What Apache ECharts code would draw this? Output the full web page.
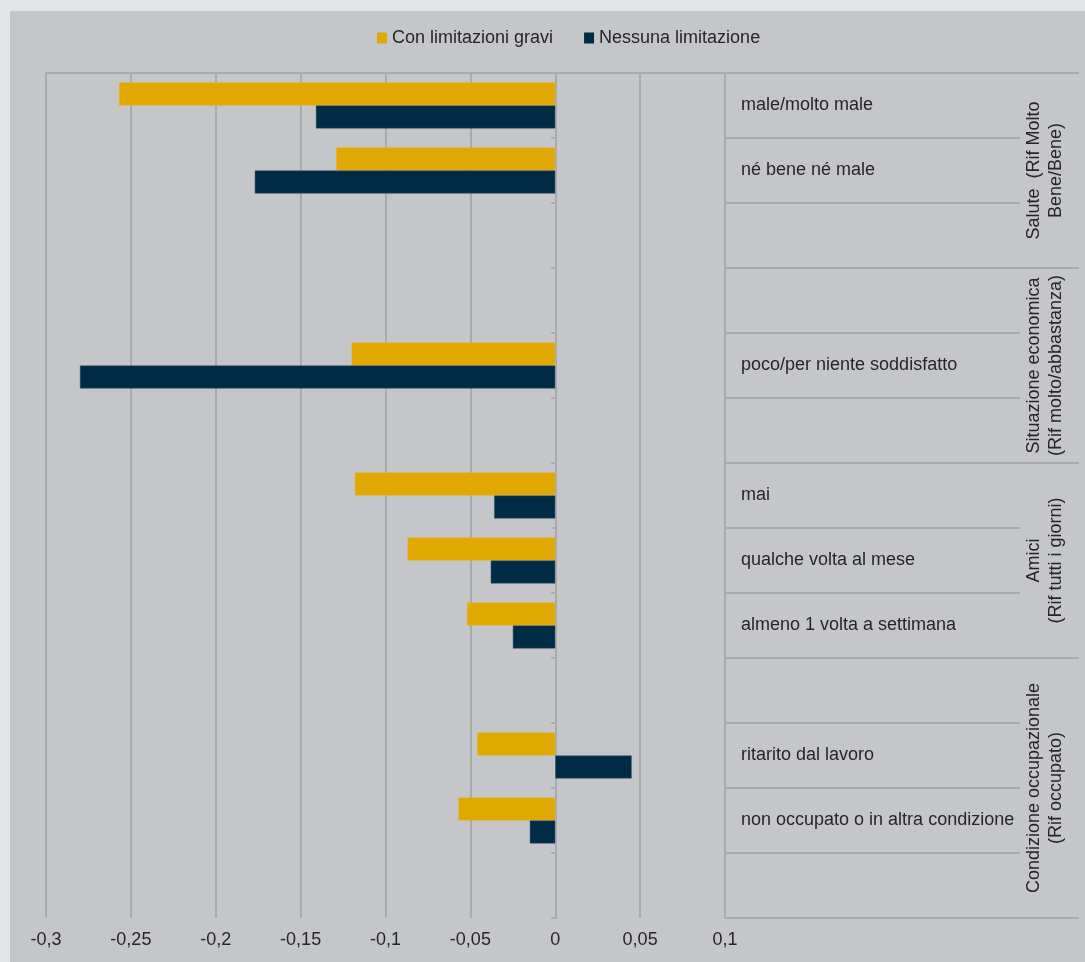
<!DOCTYPE html>
<html>
<head>
<meta charset="utf-8">
<script src="https://cdn.jsdelivr.net/npm/echarts@6/dist/echarts.min.js"></script>
<style>
  html, body { margin: 0; padding: 0; background: #e3e4e6; }
  #bg { position: absolute; left: 10px; top: 11px; width: 1075px; height: 951px; background: #c5c6ca; }
  #chart { position: absolute; left: 0; top: 0; width: 1085px; height: 962px; }
</style>
</head>
<body>
<div id="bg"></div>
<div id="chart"></div>
<script>
// ---- data ----
const categories = [
  'male/molto male', 'né bene né male', '',
  '', 'poco/per niente soddisfatto', '',
  'mai', 'qualche volta al mese', 'almeno 1 volta a settimana',
  '', 'ritarito dal lavoro', 'non occupato o in altra condizione', ''
];
const seriesNames = ['Con limitazioni gravi', 'Nessuna limitazione'];
const conLimitazioni = [-0.257, -0.129, null, null, -0.120, null, -0.118, -0.087, -0.052, null, -0.046, -0.057, null];
const nessunaLimitazione = [-0.141, -0.177, null, null, -0.280, null, -0.036, -0.038, -0.025, null, 0.045, -0.015, null];
const groupNames = [
  'Salute  (Rif Molto\nBene/Bene)',
  'Situazione economica\n(Rif molto/abbastanza)',
  'Amici\n(Rif tutti i giorni)',
  'Condizione occupazionale\n(Rif occupato)'
];
const groupBounds = [0, 3, 6, 9, 13];
const groupCenters = [1.5, 4.5, 7.5, 11];
const xTicks = { min: -0.3, max: 0.1, interval: 0.05 };

const FONT = "'Liberation Sans', Arial, sans-serif";
const LINE = '#a9aaae';
const TXT = '#262626';

const chart = echarts.init(document.getElementById('chart'), null, { renderer: 'canvas' });

chart.setOption({
  animation: false,
  textStyle: { fontFamily: FONT },
  legend: {
    top: 24, left: 372,
    itemWidth: 10, itemHeight: 11, itemGap: 31,
    icon: 'rect',
    itemStyle: { borderWidth: 0 },
    textStyle: { fontSize: 18, color: TXT, fontFamily: FONT },
    data: seriesNames
  },
  grid: { left: 46, right: 360, top: 73, bottom: 44, containLabel: false },
  xAxis: {
    type: 'value',
    min: xTicks.min, max: xTicks.max, interval: xTicks.interval,
    axisLine: { show: true, lineStyle: { color: LINE, width: 2 } },
    axisTick: { show: true, length: 5, lineStyle: { color: LINE, width: 2 } },
    splitLine: { show: true, lineStyle: { color: LINE, width: 2 } },
    axisLabel: {
      margin: 13, fontSize: 18, color: TXT, fontFamily: FONT,
      formatter: v => String(Math.round(v * 100) / 100).replace('.', ',')
    }
  },
  yAxis: [
    {
      type: 'category', data: categories, inverse: true, position: 'left',
      axisLine: { show: true, onZero: true, lineStyle: { color: LINE, width: 2 } },
      axisTick: { show: true, length: 4, interval: 0, lineStyle: { color: LINE, width: 2 } },
      axisLabel: { show: false },
      splitLine: { show: false }
    },
    {
      type: 'category', data: categories, inverse: true, position: 'right',
      axisLine: { show: true, onZero: false, lineStyle: { color: LINE, width: 2 } },
      axisTick: { show: true, length: 295, interval: 0, lineStyle: { color: LINE, width: 2 } },
      axisLabel: { show: true, interval: 0, margin: 16, padding: [4, 0, 0, 0], fontSize: 18, color: TXT, fontFamily: FONT },
      splitLine: { show: false }
    },
    {
      type: 'value', min: 0, max: 13, inverse: true, position: 'right',
      axisLine: { show: false, onZero: false },
      axisTick: { show: true, length: 354, customValues: groupBounds, lineStyle: { color: LINE, width: 2 } },
      axisLabel: {
        show: true, customValues: groupCenters, rotate: 90, margin: 298,
        fontSize: 18, lineHeight: 22, color: TXT, fontFamily: FONT, align: 'center',
        formatter: v => {
          const i = groupCenters.indexOf(v);
          return i >= 0 ? groupNames[i] : '';
        }
      },
      splitLine: { show: false }
    }
  ],
  series: [
    {
      name: seriesNames[0], type: 'bar', yAxisIndex: 0,
      data: conLimitazioni, barWidth: 23, barGap: '0%',
      itemStyle: { color: '#e0a800', borderColor: '#e6b52a', borderWidth: 0.5 }
    },
    {
      name: seriesNames[1], type: 'bar', yAxisIndex: 0,
      data: nessunaLimitazione, barWidth: 23, barGap: '0%',
      itemStyle: { color: '#002b44', borderColor: '#3d5a6e', borderWidth: 0.5 }
    }
  ]
});
</script>
</body>
</html>
